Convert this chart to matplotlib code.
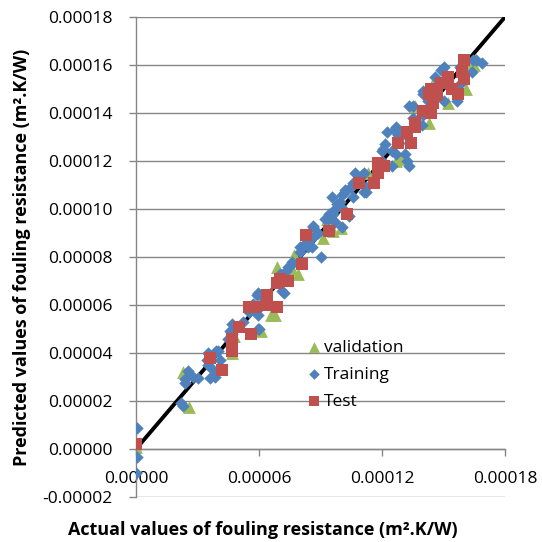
import numpy as np
import matplotlib
matplotlib.use("Agg")
import matplotlib.pyplot as plt
from matplotlib.ticker import FixedLocator

# valores en unidades de 1e-5 m2.K/W
val_x = [0.0, 2.3, 2.6, 4.7, 4.8, 6.1, 6.6, 6.8, 6.9, 7.7, 7.9, 9.1, 9.3, 9.6, 10.0,
         11.3, 12.7, 12.9, 13.6, 14.3, 14.5, 15.2, 16.1, 16.3, 16.5, 7.6]
val_y = [0.1, 3.2, 1.75, 4.0, 4.7, 4.9, 5.6, 5.6, 7.6, 8.1, 7.3, 8.8, 9.6, 9.1, 9.2,
         11.5, 12.0, 12.1, 14.3, 13.6, 15.25, 14.4, 15.0, 15.9, 16.0, 7.5]

train_x = [0.05, 0.05, 0.0,
           2.2, 2.3, 2.4, 2.55, 2.4, 2.8, 3.0, 3.5, 3.6, 3.75, 3.85, 4.1, 3.45, 3.9, 3.5, 4.0,
           4.7, 4.7, 4.6, 4.7, 4.5, 5.2, 5.95, 5.9, 5.7, 5.95, 5.5, 5.95, 6.05, 6.0, 7.2, 6.2, 7.1,
           7.0, 7.3, 7.4, 7.6, 7.6, 8.0, 8.0, 8.3, 8.6, 8.4, 9.0, 8.6, 8.1, 8.65, 8.9, 8.65,
           9.2, 9.35, 9.4, 9.6, 9.6, 9.7, 10.05, 10.4, 10.1, 9.8, 9.95, 9.55, 10.2, 10.5, 10.6,
           10.05, 10.2, 11.1, 10.5, 11.2, 10.7, 11.0, 11.1, 10.6, 11.2,
           12.0, 12.0, 12.05, 12.15, 12.5, 12.25, 12.8, 12.6, 12.7, 13.1, 13.3, 13.2, 13.3, 12.5,
           12.7, 12.9, 12.9,
           13.3, 13.5, 13.5, 13.95, 14.0, 14.0, 14.25, 15.0, 14.0, 14.6, 14.9, 15.8, 15.0, 15.8,
           15.65, 16.4, 16.45, 16.6, 16.9]
train_y = [0.87, -0.33, -1.0,
           1.9, 1.8, 2.75, 3.25, 2.9, 3.0, 2.95, 3.5, 2.95, 3.3, 3.0, 3.7, 3.7, 4.1, 4.0, 4.1,
           4.8, 4.45, 4.9, 5.2, 4.6, 5.3, 5.0, 6.4, 6.05, 5.6, 5.7, 6.5, 5.9, 5.0, 6.5, 6.3, 6.6,
           7.3, 7.4, 7.6, 7.8, 7.7, 8.2, 8.4, 8.6, 8.4, 8.4, 8.0, 8.8, 8.4, 9.3, 9.0, 9.25,
           9.6, 9.6, 9.8, 9.8, 9.9, 9.45, 9.25, 9.7, 10.0, 10.2, 10.3, 10.5, 10.7, 10.9, 10.5,
           10.6, 10.8, 10.7, 10.9, 10.9, 11.5, 11.4, 11.5, 11.1, 10.7,
           12.0, 12.4, 12.5, 12.7, 12.4, 13.2, 13.1, 13.3, 12.3, 12.3, 12.75, 12.0, 11.8, 11.8,
           13.4, 13.2, 13.0,
           14.3, 14.3, 13.8, 13.5, 13.9, 14.8, 14.5, 14.5, 14.9, 15.5, 15.8, 15.9, 15.9, 15.2,
           14.5, 15.7, 16.2, 16.2, 16.1]

test_x = [0.0, 3.6, 4.2, 4.7, 4.7, 5.0, 5.6, 5.5, 5.8, 6.4, 6.4, 6.4, 6.9, 7.0, 7.4, 6.9,
          8.1, 8.3, 9.4, 10.3, 10.9, 11.6, 11.8, 11.8, 12.1, 12.8, 13.4, 13.2, 13.6, 13.6,
          14.0, 14.4, 14.5, 14.3, 14.7, 14.4, 14.7, 14.9, 15.2, 15.4, 15.7, 15.9, 16.0, 16.0]
test_y = [0.2, 3.8, 3.3, 4.6, 4.1, 5.1, 4.8, 5.9, 5.9, 6.3, 6.0, 6.4, 5.9, 7.1, 7.0, 6.9,
          7.7, 8.9, 9.1, 9.8, 11.1, 11.1, 11.9, 11.5, 11.8, 12.75, 12.75, 13.2, 13.6, 13.4,
          14.1, 14.0, 14.4, 14.8, 14.75, 15.0, 14.8, 15.25, 15.5, 15.0, 14.8, 15.7, 16.2, 15.4]

escala = 1e-5
x_ticks = [0.0, 0.00006, 0.00012, 0.00018]
y_ticks = [-0.00002, 0.0, 0.00002, 0.00004, 0.00006, 0.00008, 0.0001, 0.00012,
           0.00014, 0.00016, 0.00018]

plt.rcParams['font.family'] = ['Open Sans', 'DejaVu Sans']

fig = plt.figure(figsize=(5.42, 5.42), dpi=100)
ax = fig.add_axes([136 / 542, 1 - 497 / 542, (505 - 136) / 542, (497 - 17) / 542])

gris = '#868686'
ax.set_xlim(0, 0.00018)
ax.set_ylim(-0.00002, 0.00018)
for yv in y_ticks:
    ax.axhline(yv, color=gris, lw=1.0, zorder=0)

# linea 1:1
ax.plot([0, 0.00018], [0, 0.00018], color='black', lw=2.8, zorder=1, solid_capstyle='round')

ax.scatter(np.array(val_x) * escala, np.array(val_y) * escala, marker='^', s=85,
           color='#9BBB59', label='validation', zorder=2, linewidths=0)
ax.scatter(np.array(train_x) * escala, np.array(train_y) * escala, marker='D', s=40,
           color='#4F81BD', label='Training', zorder=3, linewidths=0)
ax.scatter(np.array(test_x) * escala, np.array(test_y) * escala, marker='s', s=68,
           color='#C0504D', label='Test', zorder=4, linewidths=0)

ax.spines['top'].set_visible(False)
ax.spines['right'].set_visible(False)
ax.spines['bottom'].set_position(('data', 0))
for s in ['left', 'bottom']:
    ax.spines[s].set_color(gris)
    ax.spines[s].set_linewidth(1.0)

ax.xaxis.set_major_locator(FixedLocator(x_ticks))
ax.yaxis.set_major_locator(FixedLocator(y_ticks))
ax.set_xticklabels(['%.5f' % v for v in x_ticks])
ax.set_yticklabels(['%.5f' % v for v in y_ticks])
ax.tick_params(axis='both', direction='out', length=5, width=1.0, color=gris,
               labelsize=12.5, labelcolor='black')
ax.tick_params(axis='x', pad=11)
ax.tick_params(axis='y', pad=12)

fig.text(263 / 542, 1 - 530 / 542, 'Actual values of fouling resistance (m\u00b2.K/W)',
         ha='center', va='center', fontsize=13, fontweight='bold')
fig.text(22 / 542, 1 - 257 / 542, 'Predicted values of fouling resistance (m\u00b2.K/W)',
         ha='center', va='center', rotation=90, fontsize=13, fontweight='bold')

leg = ax.legend(loc='upper left', bbox_to_anchor=(300 / 542, 1 - 331 / 542),
                bbox_transform=fig.transFigure, frameon=False, fontsize=12.5,
                markerscale=0.85, handlelength=0.6, handletextpad=0.3,
                labelspacing=0.62, borderpad=0)

plt.savefig('out.png', dpi=100)
